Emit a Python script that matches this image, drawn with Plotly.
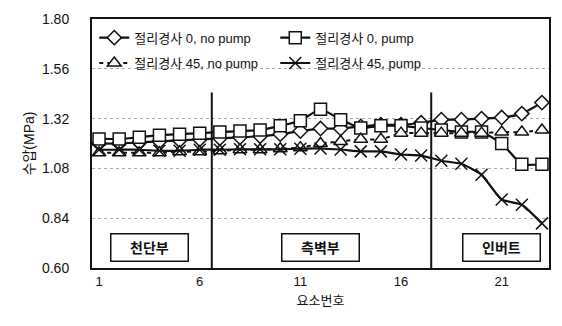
import plotly.graph_objects as go

# element numbers along the lining
elements = list(range(1, 24))

# water pressure (MPa) per element
joint0_no_pump = [1.20, 1.20, 1.205, 1.21, 1.215, 1.22, 1.225, 1.23, 1.235, 1.245, 1.26, 1.272,
                  1.272, 1.282, 1.29, 1.29, 1.30, 1.315, 1.315, 1.32, 1.325, 1.344, 1.397]
joint0_pump = [1.222, 1.222, 1.23, 1.24, 1.245, 1.25, 1.255, 1.26, 1.265, 1.285, 1.31, 1.365,
               1.315, 1.275, 1.285, 1.285, 1.275, 1.265, 1.255, 1.255, 1.20, 1.10, 1.10]
joint45_no_pump = [1.155, 1.155, 1.155, 1.155, 1.16, 1.16, 1.165, 1.17, 1.17, 1.175, 1.18, 1.20,
                   1.21, 1.22, 1.22, 1.25, 1.25, 1.25, 1.25, 1.25, 1.255, 1.255, 1.265]
joint45_pump = [1.17, 1.17, 1.17, 1.165, 1.165, 1.17, 1.17, 1.172, 1.172, 1.172, 1.175, 1.176,
                1.171, 1.162, 1.162, 1.147, 1.142, 1.117, 1.102, 1.049, 0.93, 0.905, 0.815]

series_names = ["절리경사 0, no pump", "절리경사 0, pump",
                "절리경사 45, no pump", "절리경사 45, pump"]

# lining zones and their boundaries
zone_labels = ["천단부", "측벽부", "인버트"]
zone_centers = [3.5, 12.0, 21.0]
zone_bounds = [6.6, 17.5]

y_ticks = [0.60, 0.84, 1.08, 1.32, 1.56, 1.80]
x_ticks = [1, 6, 11, 16, 21]

FONT = "Liberation Sans, Arial, Noto Sans CJK KR, sans-serif"
BLACK = "#111111"

fig = go.Figure()

styles = [
    dict(symbol="diamond", size=11, dash="solid", width=2.2, legend="legend"),
    dict(symbol="square", size=12, dash="solid", width=2.2, legend="legend"),
    dict(symbol="triangle-up", size=12, dash="4px,4px", width=2.0, legend="legend2"),
    dict(symbol="x-thin", size=12, dash="solid", width=2.2, legend="legend2"),
]
data = [joint0_no_pump, joint0_pump, joint45_no_pump, joint45_pump]

for name, vals, st in zip(series_names, data, styles):
    fill = BLACK if st["symbol"] == "x-thin" else "white"
    fig.add_trace(go.Scatter(
        x=elements, y=vals, name=name, mode="lines+markers", legend=st["legend"],
        line=dict(color=BLACK, width=st["width"], dash=st["dash"], shape="spline", smoothing=0.5),
        marker=dict(symbol=st["symbol"], size=st["size"], color=fill,
                    line=dict(color=BLACK, width=1.5)),
    ))

# zone boundary lines
for xb in zone_bounds:
    fig.add_shape(type="line", xref="x", yref="paper", x0=xb, x1=xb, y0=0, y1=0.705,
                  line=dict(color=BLACK, width=2))

# zone labels in boxes
for lab, xc in zip(zone_labels, zone_centers):
    fig.add_annotation(x=xc, y=0.70, xref="x", yref="y", text="<b>" + lab + "</b>",
                       showarrow=False, font=dict(size=14, color=BLACK, family=FONT),
                       bordercolor=BLACK, borderwidth=1.5, borderpad=5, bgcolor="white",
                       width=66)

legend_common = dict(orientation="h", xanchor="left", yanchor="middle",
                     bgcolor="rgba(255,255,255,0)", font=dict(size=13),
                     entrywidth=136, entrywidthmode="pixels", itemwidth=30,
                     traceorder="normal")

fig.update_layout(
    width=562, height=326,
    margin=dict(l=92, r=11, t=13, b=58),
    paper_bgcolor="white", plot_bgcolor="white",
    font=dict(family=FONT, size=13, color=BLACK),
    showlegend=True,
    legend=dict(x=0.005, y=0.925, **legend_common),
    legend2=dict(x=0.005, y=0.823, **legend_common),
)

fig.update_xaxes(range=[0.65, 23.35], tickvals=x_ticks, showgrid=False,
                 showline=True, linecolor=BLACK, linewidth=2, mirror=True,
                 ticks="", tickfont=dict(size=13), zeroline=False,
                 title=dict(text="요소번호", font=dict(size=13), standoff=8))
fig.update_yaxes(range=[0.60, 1.80], tickvals=y_ticks, tickformat=".2f",
                 showgrid=True, gridcolor="#aaaaaa", griddash="dot", gridwidth=1,
                 showline=True, linecolor=BLACK, linewidth=2, mirror=True,
                 ticks="", ticklabelstandoff=18, tickfont=dict(size=14), zeroline=False,
                 title=dict(text="수압(MPa)", font=dict(size=14), standoff=4))

fig.write_html("out.html")
